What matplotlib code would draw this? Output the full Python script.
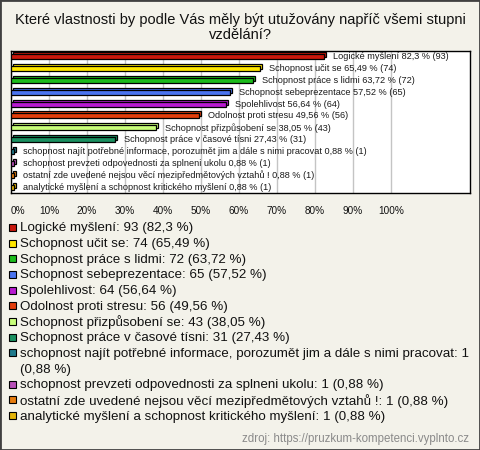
import textwrap
import matplotlib
matplotlib.use('Agg')
import matplotlib.pyplot as plt
from matplotlib.patches import Rectangle
import matplotlib.transforms as mtransforms

plt.rcParams['font.family'] = ['Liberation Sans', 'DejaVu Sans']

title = "Které vlastnosti by podle Vás měly být utužovány napříč všemi stupni\nvzdělání?"
source = "zdroj: https://pruzkum-kompetenci.vyplnto.cz"

categories = [
    "Logické myšlení",
    "Schopnost učit se",
    "Schopnost práce s lidmi",
    "Schopnost sebeprezentace",
    "Spolehlivost",
    "Odolnost proti stresu",
    "Schopnost přizpůsobení se",
    "Schopnost práce v časové tísni",
    "schopnost najít potřebné informace, porozumět jim a dále s nimi pracovat",
    "schopnost prevzeti odpovednosti za splneni ukolu",
    "ostatní zde uvedené nejsou věcí mezipředmětových vztahů !",
    "analytické myšlení a schopnost kritického myšlení",
]
counts = [93, 74, 72, 65, 64, 56, 43, 31, 1, 1, 1, 1]
percents = [82.3, 65.49, 63.72, 57.52, 56.64, 49.56, 38.05, 27.43, 0.88, 0.88, 0.88, 0.88]
colors = ['#c8170c', '#ffe600', '#1cbc1c', '#4a74f0', '#b81ad0', '#e23d0b',
          '#c8fe7a', '#1a9060', '#1f7a8c', '#b850b8', '#e87d10', '#e4b40a']
tick_values = [0, 10, 20, 30, 40, 50, 60, 70, 80, 90, 100]
tick_labels = ['0%', '10%', '20%', '30%', '40%', '50%', '60%', '70%', '80%', '90%', '100%']

W, H = 480, 450
bg = '#f3f2ea'
fig = plt.figure(figsize=(W / 100, H / 100), dpi=100, facecolor=bg)
fig.patches.append(Rectangle((0, 0), 1, 1, transform=fig.transFigure, fill=False,
                             edgecolor='#404040', lw=2))

fig.text(0.5, 1 - 27.5 / H, title, ha='center', va='center', fontsize=10.5,
         color='#111111', linespacing=1.05)

top_px, bot_px, left_px, right_px = 50.7, 193, 11, 470
ax = fig.add_axes([left_px / W, 1 - bot_px / H, (right_px - left_px) / W, (bot_px - top_px) / H])
ax.set_facecolor('white')
ax.set_xlim(0, 100 * (right_px - left_px) / 380)
n = len(categories)
ax.set_ylim(n - 0.5, -0.5)
ypos = list(range(n))

depth = mtransforms.offset_copy(ax.transData, fig=fig, x=2, y=2, units='dots')
ax.barh(ypos, percents, height=0.42, color=colors, edgecolor='black', lw=0.9,
        transform=depth, zorder=3)
ax.barh(ypos, percents, height=0.42, color=colors, edgecolor='black', lw=0.9, zorder=4)

for y, cat, p, c in zip(ypos, categories, percents, counts):
    ax.annotate(f"{cat} {str(p).replace('.', ',')} % ({c})", xy=(p, y), xytext=(9, 0),
                textcoords='offset pixels', va='center', ha='left', fontsize=6.6,
                color='#1a1a1a', zorder=5)

ax.set_xticks(tick_values)
ax.set_xticklabels(tick_labels, fontsize=7.2, color='#111111')
ax.get_xticklabels()[0].set_ha('left')
ax.set_yticks([])
ax.tick_params(axis='x', length=0, pad=9)
ax.xaxis.grid(True, color='#c4c4c4', lw=1)
ax.set_axisbelow(True)
for s in ax.spines.values():
    s.set_color('black')
    s.set_linewidth(1)

# legend
y = 228.3
pitch = 15.7
for cat, p, c, col in zip(categories, percents, counts, colors):
    label = f"{cat}: {c} ({str(p).replace('.', ',')} %)"
    lines = textwrap.wrap(label, 76)
    fig.patches.append(Rectangle((9 / W, 1 - (y + 2.5) / H), 7 / W, 7 / H,
                                 transform=fig.transFigure, facecolor=col,
                                 edgecolor='black', lw=0.8))
    for ln in lines:
        fig.text(19.5 / W, 1 - y / H, ln, ha='left', va='center', fontsize=9.6, color='#111111')
        y += pitch

fig.text(469 / W, 1 - 439 / H, source, ha='right', va='center', fontsize=8.3, color='#8a8a8a')

fig.savefig('out.png', dpi=100, facecolor=bg)
